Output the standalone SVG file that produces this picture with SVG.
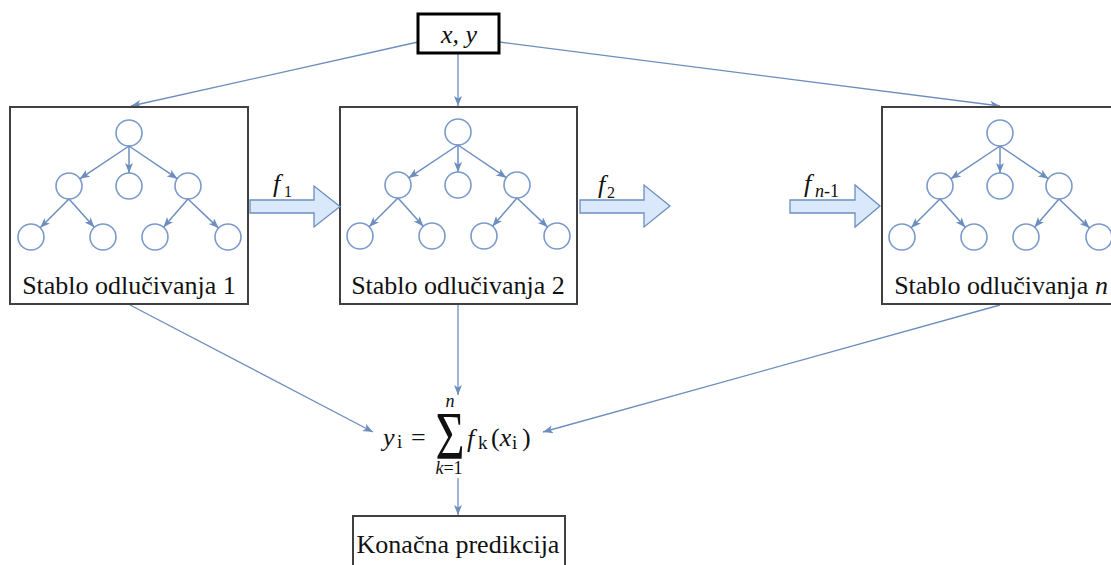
<svg xmlns="http://www.w3.org/2000/svg" width="1111" height="565" viewBox="0 0 1111 565">
<style>
.box{fill:#fff;stroke:#404040;stroke-width:2}
.conn{fill:none;stroke:#6c8ebf;stroke-width:1.3}
.node{fill:#fff;stroke:#7b9acc;stroke-width:1.6}
.edge{fill:none;stroke:#6c8ebf;stroke-width:1.5}
.t{font-family:'Liberation Serif','Times New Roman',serif;font-size:26px;fill:#111}
.s{font-size:16px}
.sb{font-size:19px}
.it{font-style:italic}
.barrow{fill:#dae8fc;stroke:#6c8ebf;stroke-width:1.3}
</style>
<defs>
<marker id="ah" markerUnits="userSpaceOnUse" markerWidth="12" markerHeight="10" refX="10" refY="4" orient="auto">
<path d="M0,0 L10,4 L0,8 L2.5,4 z" fill="#6c8ebf"/>
</marker>
<g id="tree">
<circle class="node" cx="0" cy="0" r="13"/>
<circle class="node" cx="-60" cy="53" r="13"/>
<circle class="node" cx="0" cy="53" r="13"/>
<circle class="node" cx="59" cy="53" r="13"/>
<circle class="node" cx="-98" cy="104" r="13"/>
<circle class="node" cx="-26" cy="104" r="13"/>
<circle class="node" cx="26" cy="104" r="13"/>
<circle class="node" cx="99" cy="104" r="13"/>
<line class="edge" x1="0" y1="13" x2="-49.2" y2="45.8" marker-end="url(#ah)"/>
<line class="edge" x1="0" y1="13" x2="0" y2="40" marker-end="url(#ah)"/>
<line class="edge" x1="0" y1="13" x2="48.3" y2="45.7" marker-end="url(#ah)"/>
<line class="edge" x1="-60" y1="66" x2="-88.8" y2="94.8" marker-end="url(#ah)"/>
<line class="edge" x1="-60" y1="66" x2="-34.7" y2="94.3" marker-end="url(#ah)"/>
<line class="edge" x1="59" y1="66" x2="34.5" y2="94.2" marker-end="url(#ah)"/>
<line class="edge" x1="59" y1="66" x2="89.6" y2="95.1" marker-end="url(#ah)"/>
</g>
</defs>
<rect width="1111" height="565" fill="#fff"/>

<g id="connectors">
<line class="conn" x1="418" y1="42" x2="131" y2="106" marker-end="url(#ah)"/>
<line class="conn" x1="458" y1="53" x2="458" y2="106" marker-end="url(#ah)"/>
<line class="conn" x1="499" y1="42" x2="1000" y2="106" marker-end="url(#ah)"/>
<line class="conn" x1="130" y1="305" x2="373" y2="432" marker-end="url(#ah)"/>
<line class="conn" x1="458" y1="305" x2="458" y2="395" marker-end="url(#ah)"/>
<line class="conn" x1="1000" y1="305" x2="543" y2="432" marker-end="url(#ah)"/>
<line class="conn" x1="458" y1="478" x2="458" y2="515" marker-end="url(#ah)"/>
</g>

<g id="input">
<rect x="418" y="14" width="81" height="39" fill="#fff" stroke="#000" stroke-width="3"/>
<text class="t it" x="459" y="43" text-anchor="middle">x, y</text>
</g>

<g id="tree1">
<rect class="box" x="10" y="107" width="238" height="197"/>
<use href="#tree" x="129" y="133"/>
<text class="t" x="129" y="294" text-anchor="middle">Stablo odlučivanja 1</text>
</g>

<g id="tree2">
<rect class="box" x="340" y="107" width="237" height="197"/>
<use href="#tree" x="458" y="132"/>
<text class="t" x="458" y="294" text-anchor="middle">Stablo odlučivanja 2</text>
</g>

<g id="treen">
<rect class="box" x="882" y="107" width="238" height="197"/>
<use href="#tree" x="1000" y="133"/>
<text class="t" x="1001" y="294" text-anchor="middle">Stablo odlučivanja <tspan class="it">n</tspan></text>
</g>

<g id="arrow1">
<path class="barrow" d="M250,200 H314 V186 L340,206.5 L314,227 V213 H250 Z"/>
<text class="t it" x="273" y="192">f</text>
<text class="t s" x="284" y="197">1</text>
</g>
<g id="arrow2">
<path class="barrow" d="M580,200 H644 V185 L670,206 L644,227 V213 H580 Z"/>
<text class="t it" x="598" y="193">f</text>
<text class="t s" x="607" y="198">2</text>
</g>
<g id="arrown">
<path class="barrow" d="M790,200 H855 V185 L880,206 L855,227 V213 H790 Z"/>
<text class="t it" x="804" y="192">f</text>
<text class="t" x="815" y="197" style="font-size:18px"><tspan class="it">n</tspan>-1</text>
</g>

<g id="formula">
<text class="t it" x="383" y="446">y</text>
<text class="t sb" x="397" y="448">i</text>
<text class="t" x="411" y="446">=</text>
<text class="t" transform="translate(450,458) scale(1,1.36)" style="font-size:50px" text-anchor="middle">Σ</text>
<text class="t it" x="450" y="407" style="font-size:18px" text-anchor="middle">n</text>
<text class="t" x="449" y="474" style="font-size:18px" text-anchor="middle"><tspan class="it">k</tspan>=1</text>
<text class="t it" x="467" y="447">f</text>
<text class="t sb" x="478" y="449">k</text>
<text class="t" x="491" y="446">(<tspan class="it">x</tspan></text>
<text class="t sb" x="512" y="449">i</text>
<text class="t" x="522" y="446">)</text>
</g>

<g id="result">
<rect class="box" x="353" y="516" width="212" height="52"/>
<text class="t" x="458" y="553" text-anchor="middle">Konačna predikcija</text>
</g>
</svg>
